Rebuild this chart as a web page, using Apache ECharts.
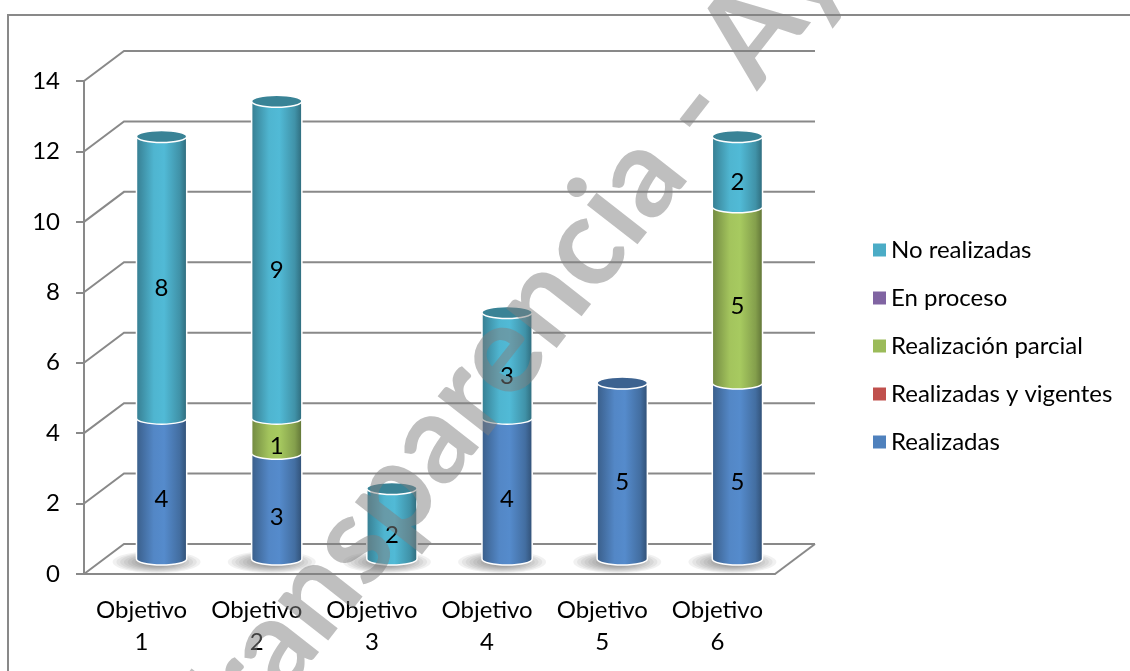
<!DOCTYPE html>
<html>
<head>
<meta charset="utf-8">
<script src="https://cdn.jsdelivr.net/npm/echarts@6/dist/echarts.min.js"></script>
<style>
html, body { margin: 0; background: #fff; }
#main { width: 1130px; height: 671px; }
</style>
</head>
<body>
<div id="main"></div>
<script>
var categorias = ['Objetivo\n1', 'Objetivo\n2', 'Objetivo\n3', 'Objetivo\n4', 'Objetivo\n5', 'Objetivo\n6'];
var realizadas = [4, 3, 0, 4, 5, 5];
var realizadasVigentes = [0, 0, 0, 0, 0, 0];
var realizacionParcial = [0, 1, 0, 0, 0, 5];
var enProceso = [0, 0, 0, 0, 0, 0];
var noRealizadas = [8, 9, 2, 3, 0, 2];
var ticksY = [0, 2, 4, 6, 8, 10, 12, 14];

var nombres = ['Realizadas', 'Realizadas y vigentes', 'Realización parcial', 'En proceso', 'No realizadas'];
var valores = [realizadas, realizadasVigentes, realizacionParcial, enProceso, noRealizadas];
var colores = ['#4F81BD', '#C0504D', '#9BBB59', '#8064A2', '#4BACC6'];

var fuente = 'Lato, "Open Sans", sans-serif';
var gris = '#898989';

function tono(hex, f) {
    var n = parseInt(hex.slice(1), 16);
    var r = Math.min(255, Math.round(((n >> 16) & 255) * f));
    var g = Math.min(255, Math.round(((n >> 8) & 255) * f));
    var b = Math.min(255, Math.round((n & 255) * f));
    return 'rgb(' + r + ',' + g + ',' + b + ')';
}

// apilar a mano: base, tope y si es el último tramo visible
var bases = categorias.map(function () { return 0; });
var ultimo = categorias.map(function (c, i) {
    var k = -1;
    valores.forEach(function (v, s) { if (v[i] > 0) k = s; });
    return k;
});
var datosSerie = valores.map(function (v, s) {
    return v.map(function (val, i) {
        var b = bases[i];
        bases[i] += val;
        return [i, b, b + val, ultimo[i] === s ? 1 : 0, val];
    });
});

function cilindro(color) {
    return function (params, api) {
        var i = api.value(0), base = api.value(1), tope = api.value(2);
        if (tope <= base) return;
        var pb = api.coord([i, base]), pt = api.coord([i, tope]);
        var cx = pb[0] + 20, yb = pb[1] - 15, yt = pt[1] - 15;
        var rx = api.size([1, 0])[0] * 0.218, ry = 6;
        var hijos = [];
        if (base === 0) {
            // sombra difusa en el suelo
            for (var k = 0; k < 8; k++) {
                var t = 1 - k / 8;
                hijos.push({ type: 'ellipse',
                    shape: { cx: cx - 5, cy: yb + 3, rx: 14 + 30 * t, ry: 4 + 7 * t },
                    style: { fill: 'rgba(0,0,0,0.055)' } });
            }
        }
        var grad = new echarts.graphic.LinearGradient(0, 0, 1, 0, [
            { offset: 0, color: tono(color, 0.72) },
            { offset: 0.35, color: tono(color, 1.05) },
            { offset: 0.55, color: tono(color, 1.08) },
            { offset: 0.85, color: tono(color, 0.85) },
            { offset: 1, color: tono(color, 0.6) }
        ]);
        var d = 'M' + (cx - rx) + ' ' + yt + ' L' + (cx - rx) + ' ' + yb +
            ' A' + rx + ' ' + ry + ' 0 0 0 ' + (cx + rx) + ' ' + yb +
            ' L' + (cx + rx) + ' ' + yt + ' Z';
        hijos.push({ type: 'path', shape: { pathData: d },
            style: { fill: grad, stroke: '#fff', lineWidth: 1.5 } });
        if (api.value(3)) {
            hijos.push({ type: 'ellipse', shape: { cx: cx, cy: yt, rx: rx, ry: ry },
                style: { fill: tono(color, 0.76), stroke: '#fff', lineWidth: 1.5 } });
        }
        hijos.push({ type: 'text', x: cx, y: (pb[1] + pt[1]) / 2 - 4,
            style: { text: String(api.value(4)), font: '24px ' + fuente, fill: '#000',
                align: 'center', verticalAlign: 'middle' } });
        return { type: 'group', children: hijos };
    };
}

function rejilla(params, api) {
    var cs = params.coordSys;
    var v = api.value(1);
    var y = api.coord([0, v])[1];
    var hijos = [{ type: 'polyline',
        shape: { points: [[cs.x, y], [cs.x + 40, y - 30], [cs.x + cs.width + 40, y - 30]] },
        style: { stroke: gris, lineWidth: 2, fill: null } }];
    if (v === 0) {
        hijos.push({ type: 'line',
            shape: { x1: cs.x + cs.width, y1: y, x2: cs.x + cs.width + 40, y2: y - 30 },
            style: { stroke: gris, lineWidth: 2 } });
    }
    return { type: 'group', children: hijos };
}

var chart = echarts.init(document.getElementById('main'));

var lista = [{
    type: 'custom',
    silent: true,
    z: 1,
    renderItem: rejilla,
    data: ticksY.map(function (t) { return [0, t]; })
}];
nombres.forEach(function (n, s) {
    lista.push({
        name: n,
        type: 'custom',
        z: 2,
        itemStyle: { color: colores[s] },
        renderItem: cilindro(colores[s]),
        encode: { x: 0, y: [1, 2] },
        data: datosSerie[s]
    });
});

var angulo = 52 * Math.PI / 180;

option = {
    animation: false,
    textStyle: { fontFamily: fuente },
    grid: { left: 84, right: 355, top: 81, bottom: 97 },
    legend: {
        orient: 'vertical',
        left: 868,
        top: 233,
        icon: 'rect',
        itemWidth: 13,
        itemHeight: 13,
        itemGap: 24,
        textStyle: { fontSize: 24, lineHeight: 24, color: '#000', fontFamily: fuente },
        data: ['No realizadas', 'En proceso', 'Realización parcial', 'Realizadas y vigentes', 'Realizadas']
    },
    xAxis: {
        type: 'category',
        data: categorias,
        axisLine: { lineStyle: { color: gris, width: 2 } },
        axisTick: { length: 8, lineStyle: { color: gris, width: 2 } },
        axisLabel: { fontSize: 24, lineHeight: 32, color: '#000', margin: 20, interval: 0 }
    },
    yAxis: {
        type: 'value',
        min: 0,
        max: 14,
        interval: 2,
        splitLine: { show: false },
        axisLine: { show: true, lineStyle: { color: gris, width: 2 } },
        axisTick: { show: true, length: 8, lineStyle: { color: gris, width: 2 } },
        axisLabel: { fontSize: 24, color: '#000', margin: 24 }
    },
    graphic: [
        { type: 'rect', z: 0, silent: true,
          shape: { x: 8, y: 15, width: 1300, height: 800 },
          style: { fill: null, stroke: gris, lineWidth: 2 } },
        { type: 'text', z: 100, silent: true, x: 186, y: 757, rotation: angulo,
          style: { text: 'Transparencia - Ayuntamiento', font: 'bold 125px ' + fuente,
              fill: 'rgba(128,128,128,0.5)', verticalAlign: 'middle', textVerticalAlign: 'middle' } }
    ],
    series: lista
};
chart.setOption(option);
</script>
</body>
</html>
